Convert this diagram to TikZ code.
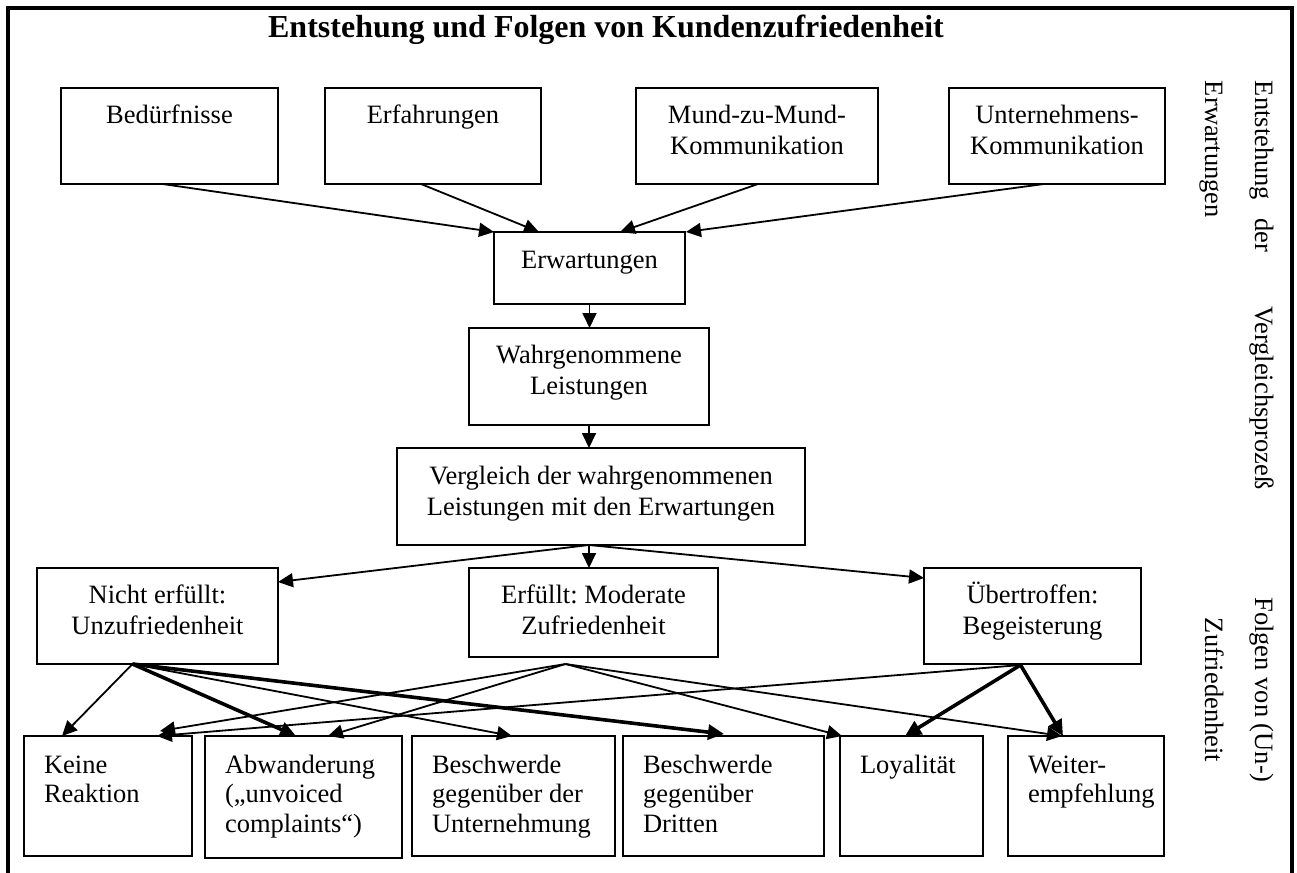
\documentclass[tikz,border=0pt]{standalone}
\usepackage{fontspec}
\setmainfont{Liberation Serif}
\usetikzlibrary{arrows.meta}
\frenchspacing
\newcommand\cbox[7]{%
  \node[box, minimum width={(#4-#2)*1pt}, minimum height={(#5-#3)*1pt}] (#1) at (#2,-#3) {};
  \node[lbl, anchor=base] (#1t) at ([yshift=-#6pt]#1.north) {\begin{tabular}[t]{@{}c@{}}#7\end{tabular}};}
\newcommand\lbox[6]{%
  \node[box, minimum width={(#4-#2)*1pt}, minimum height={(#5-#3)*1pt}] (#1) at (#2,-#3) {};
  \node[lbl, anchor=base west, font=\fontsize{26.5}{29.5}\selectfont] (#1t) at ([xshift=20pt,yshift=-37pt]#1.north west) {\begin{tabular}[t]{@{}l@{}}#6\end{tabular}};}
\begin{document}
\begin{tikzpicture}[x=1pt,y=1pt,
  box/.style={draw, line width=2pt, inner sep=0pt, outer sep=0pt, anchor=north west},
  lbl/.style={inner sep=0pt, outer sep=0pt, font=\fontsize{26.5}{31}\selectfont},
  rot/.style={lbl, rotate=-90},
  arrA/.style={line width=1.8pt, -{Triangle[length=15pt,width=14pt]}},
  arrB/.style={line width=3.6pt, -{Triangle[length=16pt,width=15pt]}},
]
\fill[white] (0,0) rectangle (1297,-872);
\useasboundingbox (0,0) rectangle (1297,-872);
\draw[line width=3.2pt] (8,-880) -- (8,-8) -- (1292,-8) -- (1292,-880);

\node[anchor=base, inner sep=0pt, font=\fontsize{32}{38}\selectfont\bfseries] (title) at (606,-38) {Entstehung und Folgen von Kundenzufriedenheit};

% top row
\cbox{bed}{61}{88}{278}{184}{36}{Bedürfnisse}
\cbox{erf}{325}{88}{541}{184}{36}{Erfahrungen}
\cbox{mund}{636}{88}{878}{184}{36}{Mund-zu-Mund-\\Kommunikation}
\cbox{unt}{949}{88}{1165}{184}{36}{Unternehmens-\\Kommunikation}
% middle
\cbox{erw}{494}{232}{685}{304}{36}{Erwartungen}
\cbox{wahr}{469}{328}{709}{425}{35}{Wahrgenommene\\Leistungen}
\cbox{verg}{397}{448}{805}{545}{36}{Vergleich der wahrgenommenen\\Leistungen mit den Erwartungen}
% third row
\cbox{nicht}{37}{568}{278}{664}{35}{Nicht erfüllt:\\Unzufriedenheit}
\cbox{erfu}{469}{568}{718}{657}{35}{Erfüllt: Moderate\\Zufriedenheit}
\cbox{ueb}{924}{568}{1141}{664}{35}{Übertroffen:\\Begeisterung}
% bottom row
\lbox{keine}{24}{736}{192}{856}{Keine\\Reaktion}
\lbox{abw}{205}{736}{402}{858}{Abwanderung\\(„unvoiced\\complaints“)}
\lbox{bu}{412}{736}{615}{856}{Beschwerde\\gegenüber der\\Unternehmung}
\lbox{bd}{623}{736}{824}{856}{Beschwerde\\gegenüber\\Dritten}
\lbox{loy}{840}{736}{983}{856}{Loyalität}
\lbox{wei}{1008}{736}{1164}{856}{Weiter-\\empfehlung}

% side labels
\node[rot, anchor=base west] (side1) at (1255,-81) {\makebox[171pt][l]{Entstehung\hfill der}};
\node[rot, anchor=base west] (side2) at (1205,-81) {Erwartungen};
\node[rot, anchor=base] (side3) at (1255,-398) {Vergleichsprozeß};
\node[rot, anchor=base] (side4) at (1255,-690) {Folgen von (Un-)};
\node[rot, anchor=base] (side5) at (1205,-690) {Zufriedenheit};

% top arrows
\draw[arrA] ([xshift=-7pt]bed.south) -- (erw.north west);
\draw[arrA] ([xshift=-12pt]erf.south) -- ([xshift=45pt]erw.north west);
\draw[arrA] ([xshift=1pt]mund.south) -- ([xshift=126pt]erw.north west);
\draw[arrA] ([xshift=-13pt]unt.south) -- ([xshift=1pt]erw.north east);
\draw[arrA] (erw.south) -- (erw.south |- wahr.north);
\draw[arrA] (wahr.south) -- (wahr.south |- verg.north);
\coordinate (vs) at (wahr.south |- verg.south);
\draw[arrA] (vs) -- ([yshift=-14pt]nicht.north east);
\draw[arrA] (vs) -- (vs |- erfu.north);
\draw[arrA] (vs) -- ([yshift=-10pt]ueb.north west);

% bottom arrows
\coordinate (nS) at ([xshift=-25pt]nicht.south);
\coordinate (eS) at ([xshift=-28pt,yshift=-7pt]erfu.south);
\coordinate (uS) at ([xshift=-12pt,yshift=-1pt]ueb.south);

\draw[arrA] (nS) -- ([xshift=38pt]keine.north west);
\draw[arrB] (nS) -- ([xshift=91pt]abw.north west);
\draw[arrA] (nS) -- ([xshift=100pt]bu.north west);
\draw[arrB] (nS) -- ([xshift=101pt,yshift=2pt]bd.north west);

\draw[arrA] (eS) -- ([xshift=136pt,yshift=5pt]keine.north west);
\draw[arrA] (eS) -- ([xshift=123pt]abw.north west);
\draw[arrA] (eS) -- ([xshift=2pt]loy.north west);
\draw[arrA] (eS) -- ([xshift=54pt]wei.north west);

\draw[arrA] (uS) -- ([xshift=133pt]keine.north west);
\draw[arrB] (uS) -- ([xshift=65pt]loy.north west);
\draw[arrB] (uS) -- ([xshift=55pt]wei.north west);
\end{tikzpicture}
\end{document}
